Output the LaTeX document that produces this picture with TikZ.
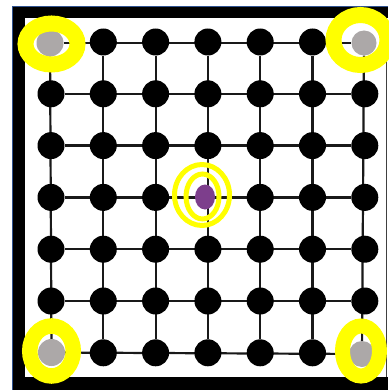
\documentclass[tikz,border=0pt]{standalone}
\usetikzlibrary{shapes.geometric}
\pgfdeclarelayer{back}
\pgfdeclarelayer{bg}
\pgfsetlayers{back,bg,main}
\definecolor{ringyellow}{RGB}{255,255,0}
\definecolor{dotgrey}{RGB}{172,168,168}
\definecolor{dotpurple}{RGB}{125,62,140}
\definecolor{frameblue}{RGB}{47,82,143}
\begin{document}
\begin{tikzpicture}[x=1pt,y=-1pt,
  dot/.style={circle,fill=black,minimum size=27pt,inner sep=0pt},
  greydot/.style={dot,fill=dotgrey},
  gridline/.style={line width=2.2pt,draw=black!90},
  ring/.style={draw=ringyellow,line width=16pt},
  thinring/.style={draw=ringyellow,line width=5pt}]
\useasboundingbox (0,0) rectangle (388,390);
% grid nodes
\foreach \i in {0,...,6}{
  \foreach \j in {0,...,6}{
    \pgfmathtruncatemacro\isspecial{or(and(or(\i==0,\i==6),or(\j==0,\j==6)),and(\i==3,\j==3))}
    \ifnum\isspecial=0
      \node[dot] (n-\i-\j) at ({51+52.3*\i},{42+51.8*\j}) {};
    \fi
  }
}
\node[greydot] (n-0-0) at (50,43) {};
\node[greydot,minimum size=25pt] (n-6-0) at (364,43) {};
\node[greydot] (n-0-6) at (51.5,352.5) {};
\node[greydot,minimum size=26pt] (n-6-6) at (362,354) {};
\coordinate (n-3-3) at (208,197.4);
\node[ellipse,fill=dotpurple,minimum width=20pt,minimum height=25pt,inner sep=0pt] (mid) at (205,197) {};
% grid lines
\begin{pgfonlayer}{bg}
  \foreach \j in {0,...,6}{\draw[gridline] (n-0-\j) -- (n-6-\j);}
  \foreach \i in {0,...,6}{\draw[gridline] (n-\i-0) -- (n-\i-6);}
\end{pgfonlayer}
% frame
\begin{pgfonlayer}{back}
  \fill[white] (0,0) rectangle (388,390);
  \fill[black] (12,6) rectangle (25,390);
  \fill[black] (12,6) rectangle (388,18);
  \fill[black] (12,377) rectangle (388,390);
  \draw[frameblue,line width=1pt] (12.5,390) -- (12.5,6.5) -- (388,6.5);
  \draw[black!75,line width=1pt] (386,18) -- (386,377);
\end{pgfonlayer}
% highlight rings
\draw[ring] (51.5,44) ellipse [x radius=26pt,y radius=20.5pt];
\draw[ring] (360.5,40) ellipse [x radius=27pt,y radius=25pt];
\draw[ring,line width=15.5pt] (51.5,351) ellipse [x radius=21.75pt,y radius=25pt];
\draw[ring,line width=15pt] (361,351) ellipse [x radius=18.5pt,y radius=25pt];
\draw[thinring] (202.5,196.5) ellipse [x radius=16.5pt,y radius=22.5pt];
\draw[thinring] (202,195) ellipse [x radius=27.5pt,y radius=30.5pt];
\end{tikzpicture}
\end{document}
